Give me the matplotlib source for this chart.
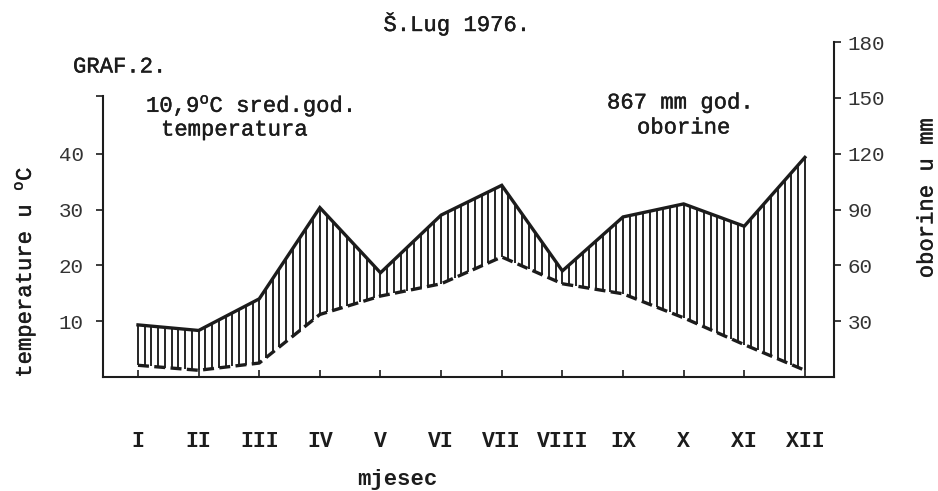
import numpy as np
import matplotlib
matplotlib.use("Agg")
import matplotlib.pyplot as plt
import matplotlib.patheffects as pe

# ---- data ----
months = ["I", "II", "III", "IV", "V", "VI", "VII", "VIII", "IX", "X", "XI", "XII"]
temperature_c = [2.1, 1.2, 2.5, 11.2, 14.5, 16.7, 21.5, 16.7, 14.9, 10.6, 5.8, 1.2]
precipitation_mm = [28, 25, 42, 91, 56, 87, 103, 57, 86, 93, 81, 118]
temp_ticks = [10, 20, 30, 40]
precip_ticks = [30, 60, 90, 120, 150, 180]

title = "Š.Lug 1976."
graf_label = "GRAF.2."
temp_note_1 = r"10,9$^{\mathrm{o}}$C sred.god."
temp_note_2 = "temperatura"
prec_note_1 = "867 mm god."
prec_note_2 = "oborine"
temp_axis_label = r"temperature u $^{\mathrm{o}}$C"
prec_axis_label = "oborine u mm"
x_axis_label = "mjesec"

# ---- style ----
plt.rcParams['font.family'] = ['Liberation Mono', 'DejaVu Sans Mono']
plt.rcParams['mathtext.fontset'] = 'custom'
plt.rcParams['mathtext.rm'] = 'Liberation Mono'
plt.rcParams['mathtext.it'] = 'Liberation Mono'
ink = '#1c1c1c'
W, H = 938, 491
thick = [pe.withStroke(linewidth=0.3, foreground=ink)]

fig = plt.figure(figsize=(W / 100, H / 100), dpi=100)
fig.patch.set_facecolor('white')
ax = fig.add_axes([103 / W, 1 - 377 / H, 731 / W, 335 / H])
ax.patch.set_alpha(0)

T_MAX, P_MAX = 60, 180
ratio = P_MAX / T_MAX
x = np.arange(len(months))
ax.set_xlim(-0.577, 11.48)
ax.set_ylim(0, T_MAX)
ax2 = ax.twinx()
ax2.set_ylim(0, P_MAX)

# vertical hatching between the curves (humid period)
xs = np.linspace(x[0], x[-1], (len(months) - 1) * 9 + 1)
lo = np.interp(xs, x, temperature_c)
hi = np.interp(xs, x, np.array(precipitation_mm) / ratio)
ax.vlines(xs, lo, hi, color=ink, lw=1.35)

ax.plot(x, temperature_c, color=ink, lw=2.4, ls=(0, (3.3, 1.6)),
        dash_capstyle='butt')
ax2.plot(x, precipitation_mm, color=ink, lw=2.4, solid_joinstyle='miter')

# spines
for s in ['top', 'right']:
    ax.spines[s].set_visible(False)
for s in ['top', 'left', 'bottom']:
    ax2.spines[s].set_visible(False)
ax.spines['left'].set_bounds(0, 50.3)
for sp in [ax.spines['left'], ax.spines['bottom'], ax2.spines['right']]:
    sp.set_color(ink)
    sp.set_linewidth(1.5)

# ticks
ax.set_yticks(temp_ticks + [50.3])
ax.set_yticklabels([str(t) for t in temp_ticks] + [""])
ax.tick_params(axis='y', direction='out', length=5, width=1.2, pad=9,
               labelsize=15, colors=ink, labelcolor='#333333')
ax.set_xticks(x)
ax.set_xticklabels(months, fontweight='bold')
ax.tick_params(axis='x', direction='in', length=5, width=1.2, pad=39,
               labelsize=15.5, colors=ink)
ax2.set_yticks(precip_ticks)
ax2.tick_params(axis='y', direction='out', length=5, width=1.2, pad=5,
                labelsize=15, colors=ink, labelcolor='#333333')

# texts
fs = 16
kw = dict(fontsize=fs, color=ink, path_effects=thick)
fig.text(457 / W, 1 - 24 / H, title, ha='center', va='center', **kw)
fig.text(73 / W, 1 - 67 / H, graf_label, ha='left', va='center', **kw)
fig.text(146 / W, 1 - 106 / H, temp_note_1, ha='left', va='center', **kw)
fig.text(161 / W, 1 - 130 / H, temp_note_2, ha='left', va='center', **kw)
fig.text(607 / W, 1 - 103 / H, prec_note_1, ha='left', va='center', **kw)
fig.text(637 / W, 1 - 128 / H, prec_note_2, ha='left', va='center', **kw)
fig.text(25 / W, 1 - 272 / H, temp_axis_label, ha='center', va='center',
         rotation=90, **kw)
fig.text(927 / W, 1 - 198 / H, prec_axis_label, ha='center', va='center',
         rotation=90, **kw)
fig.text(397 / W, 1 - 480 / H, x_axis_label, ha='center', va='center',
         fontsize=fs, fontweight='bold', color=ink)

fig.savefig('out.png', dpi=100)
